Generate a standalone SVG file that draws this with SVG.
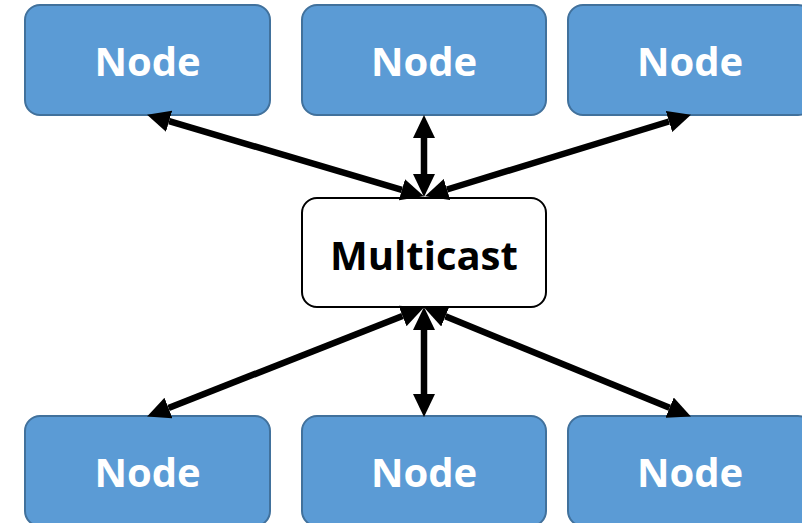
<svg xmlns="http://www.w3.org/2000/svg" width="802" height="523" viewBox="0 0 802 523">
  <style>
    .node rect { fill: #5B9BD5; stroke: #41719C; stroke-width: 2; }
    .node text { fill: #FFFFFF; font-family: "Open Sans", "DejaVu Sans", sans-serif; font-weight: bold; font-size: 40px; text-anchor: middle; }
    .hub rect { fill: #FFFFFF; stroke: #000000; stroke-width: 2; }
    .hub text { fill: #000000; font-family: "Open Sans", "DejaVu Sans", sans-serif; font-weight: bold; font-size: 40px; text-anchor: middle; }
    .link { stroke: #000000; stroke-width: 6.5; fill: none; marker-start: url(#head); marker-end: url(#head); }
  </style>
  <defs>
    <marker id="head" viewBox="0 -11 23 22" refX="0" refY="0" markerWidth="23" markerHeight="22" markerUnits="userSpaceOnUse" orient="auto-start-reverse">
      <path d="M0,-11 L23,0 L0,11 z" fill="#000000"/>
    </marker>
  </defs>

  <g id="node-top-left" class="node">
    <rect x="25" y="5" width="245" height="110" rx="15"/>
    <text x="147.5" y="76">Node</text>
  </g>
  <g id="node-top-center" class="node">
    <rect x="302" y="5" width="244" height="110" rx="15"/>
    <text x="424" y="76">Node</text>
  </g>
  <g id="node-top-right" class="node">
    <rect x="568" y="5" width="245" height="110" rx="15"/>
    <text x="690" y="76">Node</text>
  </g>

  <g id="multicast" class="hub">
    <rect x="302" y="198" width="244" height="109" rx="15"/>
    <text x="424" y="270">Multicast</text>
  </g>

  <g id="node-bottom-left" class="node">
    <rect x="25" y="416" width="245" height="110" rx="15"/>
    <text x="147.5" y="487">Node</text>
  </g>
  <g id="node-bottom-center" class="node">
    <rect x="302" y="416" width="244" height="110" rx="15"/>
    <text x="424" y="487">Node</text>
  </g>
  <g id="node-bottom-right" class="node">
    <rect x="568" y="416" width="245" height="110" rx="15"/>
    <text x="690" y="487">Node</text>
  </g>

  <!-- double-headed links; endpoints sit at the arrowhead bases -->
  <g id="connectors">
    <path class="link" d="M169.1,121.2 L401.9,189.8"/>
    <path class="link" d="M424,138 L424,174"/>
    <path class="link" d="M669,121.5 L447,189.5"/>
    <path class="link" d="M402.5,316 L168.5,408"/>
    <path class="link" d="M424,330 L424,394"/>
    <path class="link" d="M445.4,316.3 L669.6,407.7"/>
  </g>
</svg>
